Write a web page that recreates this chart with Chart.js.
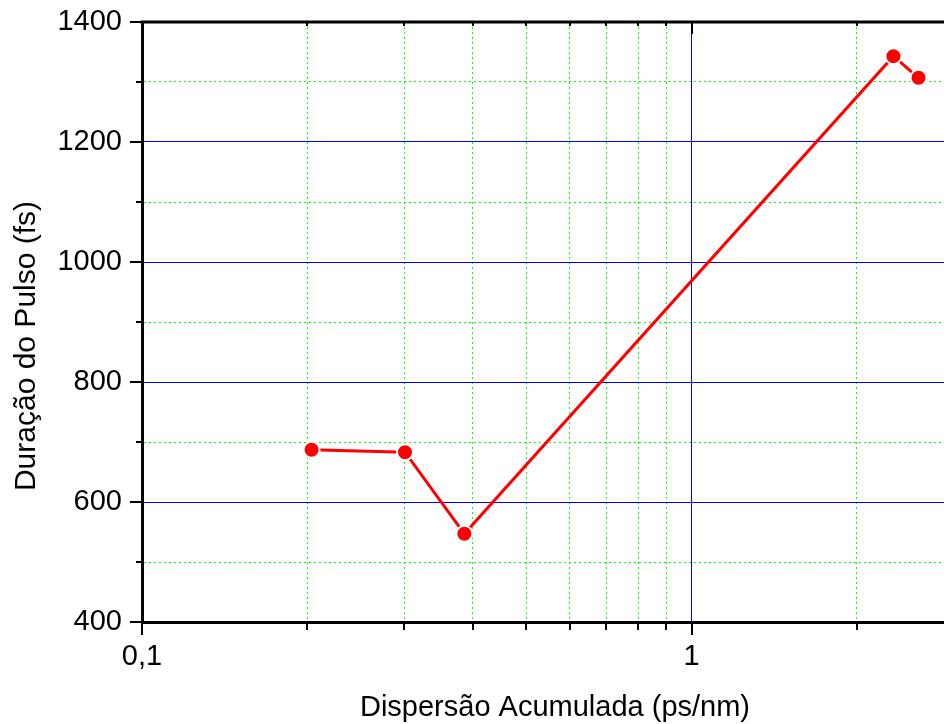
<!DOCTYPE html>
<html lang="pt">
<head>
<meta charset="UTF-8">
<title>Duração do Pulso x Dispersão Acumulada</title>
<style>
    body { margin: 0; background: #fff; }
    #chart-container { width: 944px; height: 724px; }
</style>
</head>
<body>
<div id="chart-container">
    <canvas id="pulseChart"></canvas>
</div>

<script src="https://cdn.jsdelivr.net/npm/chart.js"></script>
<script>
    // dados
    const dispersion = [0.2035, 0.301, 0.386, 2.33, 2.588];      // ps/nm
    const pulseDuration = [687, 683, 547, 1343, 1307];           // fs

    // eixos
    const xTickValues = [0.1, 0.2, 0.3, 0.4, 0.5, 0.6, 0.7, 0.8, 0.9, 1, 2];
    const xTickLabels = ['0,1', '', '', '', '', '', '', '', '', '1', ''];
    const xMajor = [0.1, 1];
    const yTickValues = [400, 500, 600, 700, 800, 900, 1000, 1100, 1200, 1300, 1400];
    const yTickLabels = ['400', '', '600', '', '800', '', '1000', '', '1200', '', '1400'];
    const yMajor = [400, 600, 800, 1000, 1200, 1400];
    const xTitle = 'Dispersão Acumulada (ps/nm)';
    const yTitle = 'Duração do Pulso (fs)';

    const FONT = "'Liberation Sans', Arial, Helvetica, sans-serif";

    // linhas dos eixos, marcas (para fora à esquerda/embaixo, para dentro em cima) e títulos
    const axisFrame = {
        id: 'axisFrame',
        afterDraw(chart) {
            const { ctx, chartArea: { left, right, top, bottom }, scales: { x, y } } = chart;
            ctx.save();
            ctx.strokeStyle = '#000';
            ctx.lineWidth = 3;
            ctx.beginPath();
            ctx.moveTo(left - 1.5, top);
            ctx.lineTo(right, top);
            ctx.stroke();

            ctx.lineWidth = 2;
            ctx.beginPath();
            yTickValues.forEach(v => {
                const py = Math.round(y.getPixelForValue(v));
                const len = yMajor.includes(v) ? 12 : 6;
                ctx.moveTo(left - len, py);
                ctx.lineTo(left, py);
            });
            xTickValues.forEach(v => {
                const px = Math.round(x.getPixelForValue(v));
                const major = xMajor.includes(v);
                ctx.moveTo(px, bottom);
                ctx.lineTo(px, bottom + (major ? 13 : 8));
                ctx.moveTo(px, top);
                ctx.lineTo(px, top + (major ? 12 : 4));
            });
            ctx.stroke();

            ctx.fillStyle = '#000';
            ctx.textAlign = 'center';
            ctx.textBaseline = 'middle';

            // título do eixo x (no original um pouco à direita do centro)
            ctx.font = '29px ' + FONT;
            ctx.fillText(xTitle, (left + right) / 2 + 12, 708);

            // título do eixo y (no original um pouco abaixo do centro)
            ctx.translate(27, (top + bottom) / 2 + 24);
            ctx.rotate(-Math.PI / 2);
            ctx.font = '30px ' + FONT;
            ctx.fillText(yTitle, 0, 0);
            ctx.restore();
        }
    };

    new Chart(document.getElementById('pulseChart'), {
        type: 'line',
        data: {
            datasets: [{
                data: dispersion.map((v, i) => ({ x: v, y: pulseDuration[i] })),
                borderColor: '#ff0000',
                borderWidth: 3,
                pointRadius: 8,
                pointBackgroundColor: '#ff0000',
                pointBorderColor: '#ffffff',
                pointBorderWidth: 2,
                tension: 0
            }]
        },
        options: {
            responsive: true,
            maintainAspectRatio: false,
            animation: false,
            layout: { autoPadding: false, padding: { top: 22, right: 0, bottom: 0, left: 0 } },
            plugins: {
                legend: { display: false },
                tooltip: { enabled: false }
            },
            scales: {
                x: {
                    type: 'logarithmic',
                    min: 0.1,
                    max: 2.88,
                    afterBuildTicks: s => { s.ticks = xTickValues.map(v => ({ value: v })); },
                    afterFit: s => { s.height = 102; s.paddingLeft = 0; s.paddingRight = 0; },
                    grid: {
                        drawTicks: false,
                        lineWidth: 1,
                        color: c => c.tick.value === 1 ? '#0000ff'
                            : (xMajor.includes(c.tick.value) ? 'rgba(0,0,0,0)' : '#00ff00')
                    },
                    border: {
                        color: '#000',
                        width: 3,
                        dash: c => c.tick && c.tick.value === 1 ? [] : [2, 3]
                    },
                    ticks: {
                        autoSkip: false,
                        maxRotation: 0,
                        padding: 18,
                        color: '#000',
                        font: { family: FONT, size: 29 },
                        callback: (v, i) => xTickLabels[i]
                    },
                    title: { display: false }
                },
                y: {
                    min: 400,
                    max: 1400,
                    afterBuildTicks: s => { s.ticks = yTickValues.map(v => ({ value: v })); },
                    afterFit: s => { s.width = 142; s.paddingTop = 0; s.paddingBottom = 0; },
                    grid: {
                        drawTicks: false,
                        lineWidth: 1,
                        color: c => (c.tick.value === 400 || c.tick.value === 1400) ? 'rgba(0,0,0,0)'
                            : (yMajor.includes(c.tick.value) ? '#0000ff' : '#00ff00')
                    },
                    border: {
                        color: '#000',
                        width: 3,
                        dash: c => c.tick && yMajor.includes(c.tick.value) ? [] : [2, 3]
                    },
                    ticks: {
                        autoSkip: false,
                        padding: 20,
                        color: '#000',
                        font: { family: FONT, size: 29 },
                        callback: (v, i) => yTickLabels[i]
                    },
                    title: { display: false }
                }
            }
        },
        plugins: [axisFrame]
    });
</script>
</body>
</html>
